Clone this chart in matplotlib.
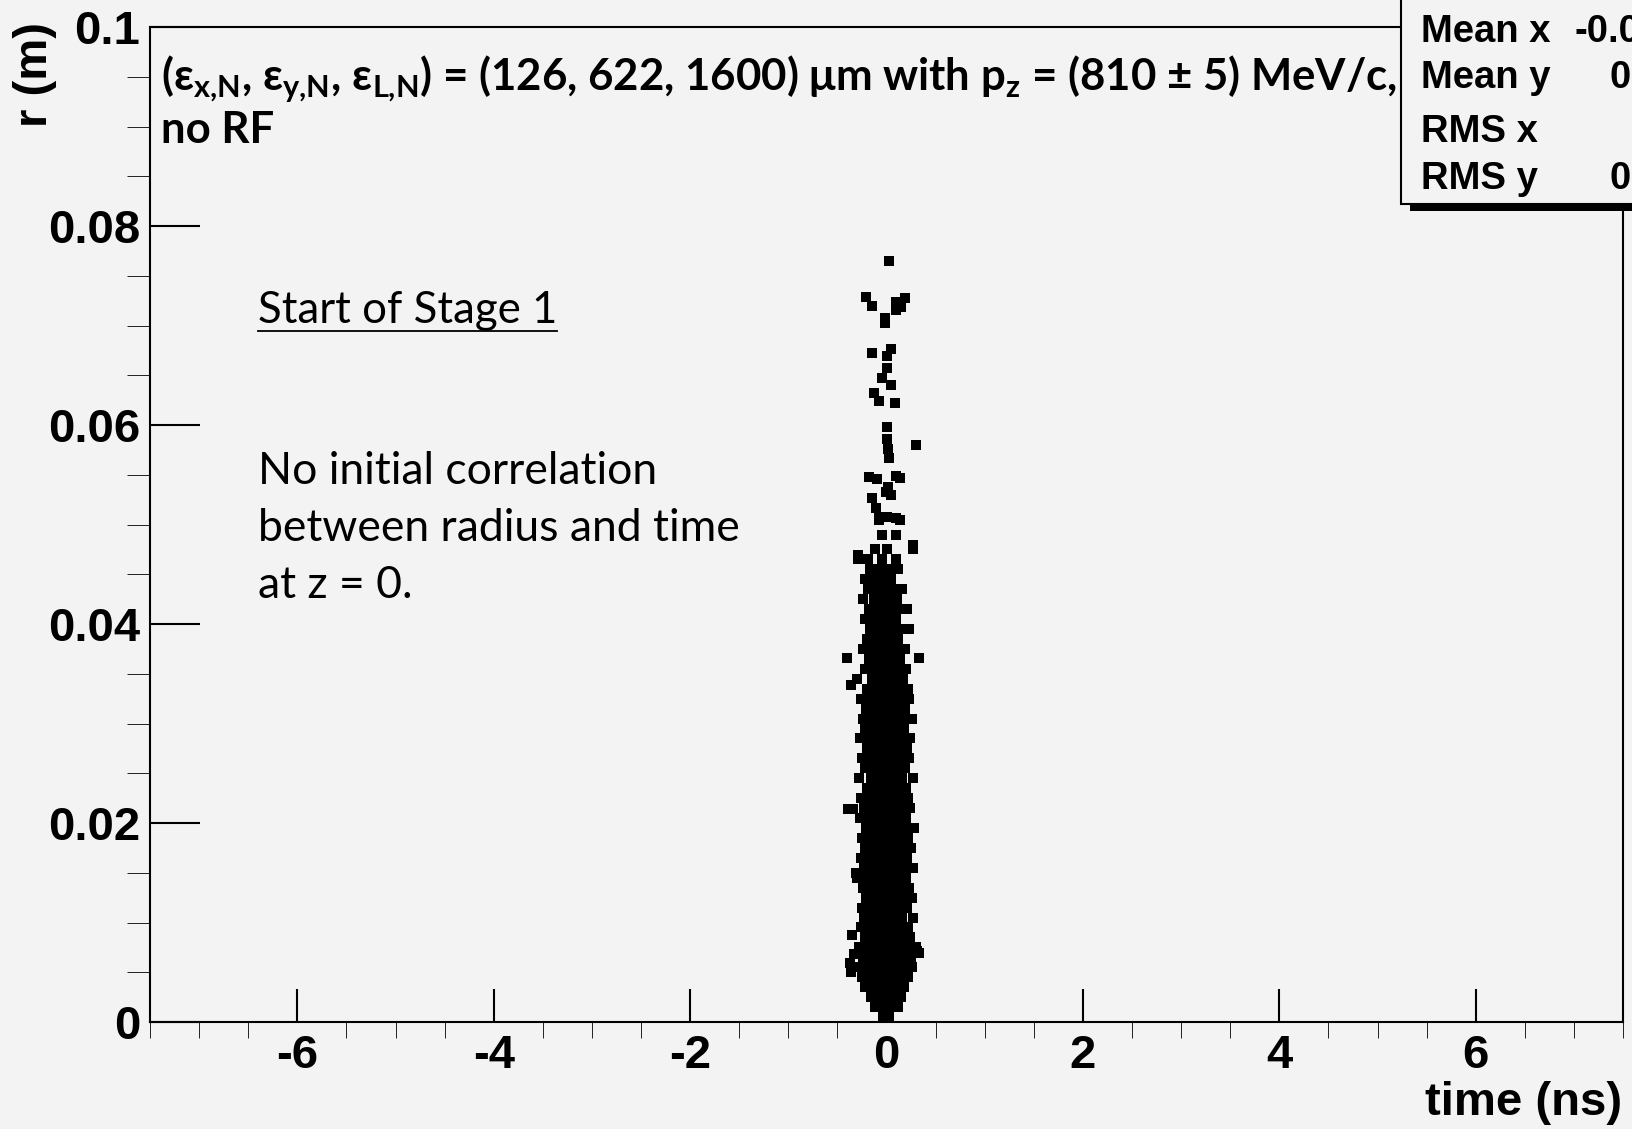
import numpy as np
import matplotlib.pyplot as plt
from matplotlib.patches import Rectangle
from matplotlib.lines import Line2D
from matplotlib.ticker import MultipleLocator, FixedLocator, FixedFormatter

plt.rcParams['axes.unicode_minus'] = False
plt.rcParams['mathtext.fontset'] = 'custom'
plt.rcParams['mathtext.rm'] = 'Lato:bold'

W, H = 1633, 1129
BG = '#f3f3f3'

# sparse particles above the dense core (time ns, radius m)
halo_t = [0.03, -0.21, -0.15, 0.10, 0.19, 0.15, 0.10, -0.02, -0.02, -0.15, 0.05, 0.0,
          0.0, -0.05, 0.05, -0.13, -0.08, 0.09, 0.0, 0.0, 0.30, 0.02, 0.03, -0.18,
          -0.10, 0.10, 0.14, 0.02, -0.01, 0.05, -0.15, -0.11, -0.08, 0.0, 0.10]
halo_r = [0.0765, 0.0729, 0.0720, 0.0724, 0.0728, 0.0719, 0.0716, 0.0708, 0.0703, 0.0672,
          0.0676, 0.0669, 0.0657, 0.0647, 0.0640, 0.0632, 0.0624, 0.0622, 0.0598, 0.0586,
          0.0580, 0.0576, 0.0567, 0.0548, 0.0546, 0.0549, 0.0547, 0.0538, 0.0533, 0.0530,
          0.0527, 0.0517, 0.0508, 0.0508, 0.0507]

# isolated points beside the core
side_t = [-0.36, -0.37, -0.33, 0.31, 0.33, -0.35, -0.39, -0.34, -0.36, -0.40, 0.33,
          0.27, -0.29, -0.31]
side_r = [0.0050, 0.0059, 0.0068, 0.0071, 0.0069, 0.0087, 0.0214, 0.0214, 0.0339,
          0.0366, 0.0366, 0.0479, 0.0469, 0.0150]

# dense core, one row of times per radius level
core_r = [0.0005, 0.0015, 0.0025, 0.0035, 0.0045, 0.0055, 0.0065, 0.0075, 0.0085, 0.0095,
          0.0105, 0.0115, 0.0125, 0.0135, 0.0145, 0.0155, 0.0165, 0.0175, 0.0185, 0.0195,
          0.0205, 0.0215, 0.0225, 0.0235, 0.0245, 0.0255, 0.0265, 0.0275, 0.0285, 0.0295,
          0.0305, 0.0315, 0.0325, 0.0335, 0.0345, 0.0355, 0.0365, 0.0375, 0.0385, 0.0395,
          0.0405, 0.0415, 0.0425, 0.0435, 0.0445, 0.0455, 0.0465, 0.0475, 0.0489, 0.0505]
core_t = [
    [-0.04, 0.03],
    [-0.12, -0.03, 0.05, 0.12],
    [-0.16, -0.08, 0.0, 0.07, 0.15],
    [-0.22, -0.13, -0.05, 0.03, 0.10, 0.18],
    [-0.25, -0.17, -0.09, -0.01, 0.07, 0.14, 0.22],
    [-0.27, -0.19, -0.11, -0.03, 0.05, 0.12, 0.19, 0.26],
    [-0.24, -0.15, -0.07, 0.01, 0.09, 0.17, 0.25],
    [-0.28, -0.20, -0.12, -0.04, 0.04, 0.11, 0.20, 0.30],
    [-0.22, -0.14, -0.06, 0.02, 0.10, 0.18, 0.24],
    [-0.26, -0.18, -0.09, -0.01, 0.07, 0.15, 0.22],
    [-0.23, -0.15, -0.07, 0.01, 0.09, 0.16, 0.27],
    [-0.25, -0.17, -0.10, -0.02, 0.06, 0.13, 0.21],
    [-0.21, -0.13, -0.05, 0.03, 0.11, 0.19, 0.26],
    [-0.24, -0.16, -0.08, 0.0, 0.08, 0.15, 0.23],
    [-0.30, -0.20, -0.12, -0.04, 0.04, 0.12, 0.20],
    [-0.23, -0.15, -0.07, 0.01, 0.09, 0.17, 0.27],
    [-0.26, -0.18, -0.10, -0.02, 0.06, 0.14, 0.21],
    [-0.22, -0.14, -0.06, 0.02, 0.10, 0.18, 0.25],
    [-0.25, -0.17, -0.09, -0.01, 0.07, 0.15, 0.22],
    [-0.21, -0.13, -0.05, 0.03, 0.11, 0.19, 0.28],
    [-0.27, -0.19, -0.11, -0.03, 0.05, 0.13, 0.20],
    [-0.23, -0.15, -0.07, 0.01, 0.09, 0.17, 0.24],
    [-0.26, -0.17, -0.09, -0.01, 0.07, 0.15, 0.22],
    [-0.20, -0.12, -0.04, 0.04, 0.12, 0.20],
    [-0.28, -0.16, -0.08, 0.0, 0.08, 0.16, 0.27],
    [-0.22, -0.14, -0.06, 0.02, 0.10, 0.19],
    [-0.25, -0.17, -0.09, -0.01, 0.07, 0.15, 0.23],
    [-0.20, -0.12, -0.04, 0.04, 0.12, 0.21],
    [-0.27, -0.18, -0.10, -0.02, 0.06, 0.14, 0.24],
    [-0.22, -0.14, -0.06, 0.02, 0.10, 0.18],
    [-0.24, -0.16, -0.08, 0.0, 0.08, 0.16, 0.26],
    [-0.21, -0.13, -0.05, 0.03, 0.11, 0.19],
    [-0.26, -0.17, -0.09, -0.01, 0.07, 0.15, 0.23],
    [-0.20, -0.12, -0.04, 0.04, 0.12, 0.22],
    [-0.30, -0.15, -0.07, 0.01, 0.09, 0.17],
    [-0.22, -0.13, -0.05, 0.03, 0.11, 0.20],
    [-0.18, -0.10, -0.02, 0.06, 0.14],
    [-0.24, -0.15, -0.07, 0.01, 0.09, 0.19],
    [-0.20, -0.12, -0.04, 0.04, 0.12],
    [-0.17, -0.09, -0.01, 0.07, 0.16, 0.23],
    [-0.22, -0.14, -0.06, 0.02, 0.10],
    [-0.18, -0.10, -0.02, 0.06, 0.14, 0.21],
    [-0.24, -0.13, -0.05, 0.03, 0.11],
    [-0.19, -0.10, 0.0, 0.08, 0.16],
    [-0.22, -0.14, -0.04, 0.05],
    [-0.17, -0.08, 0.02, 0.12],
    [-0.29, -0.19, -0.05, 0.10],
    [-0.12, 0.0, 0.27],
    [-0.05, 0.10],
    [-0.08, 0.14],
]

x_ticks = [-6, -4, -2, 0, 2, 4, 6]
x_labels = ['-6', '-4', '-2', '0', '2', '4', '6']
y_ticks = [0, 0.02, 0.04, 0.06, 0.08, 0.1]
y_labels = ['0', '0.02', '0.04', '0.06', '0.08', '0.1']

stat_names = ['Mean x', 'Mean y', 'RMS x', 'RMS y']
stat_values = ['-0.002046', '0.02058', '0.103', '0.01512']

t_all = list(halo_t) + list(side_t)
r_all = list(halo_r) + list(side_r)
for r, row in zip(core_r, core_t):
    t_all += row
    r_all += [r] * len(row)


def fx(px):
    return px / W


def fy(py):
    return 1 - py / H


fig = plt.figure(figsize=(W / 100, H / 100), dpi=100, facecolor=BG)
ax = fig.add_axes([fx(150), fy(1022), (1623 - 150) / W, (1022 - 27) / H])
ax.set_facecolor(BG)

ax.plot(t_all, r_all, 's', color='black', ms=7.0, mew=0)

ax.set_xlim(-7.5, 7.5)
ax.set_ylim(0, 0.1)

tick_font = dict(family='Liberation Sans', weight='bold', size=34)
ax.xaxis.set_major_locator(FixedLocator(x_ticks))
ax.xaxis.set_major_formatter(FixedFormatter(x_labels))
ax.xaxis.set_minor_locator(MultipleLocator(0.5))
ax.yaxis.set_major_locator(FixedLocator(y_ticks))
ax.yaxis.set_major_formatter(FixedFormatter(y_labels))
ax.yaxis.set_minor_locator(MultipleLocator(0.005))

ax.tick_params(direction='in', width=1.5, color='black', top=False, right=False)
ax.tick_params(axis='x', which='major', length=24, pad=9)
ax.tick_params(axis='x', which='minor', length=11.5)
ax.tick_params(axis='y', which='major', length=36, pad=7)
ax.tick_params(axis='y', which='minor', length=16.5)
for lab in ax.get_xticklabels() + ax.get_yticklabels():
    lab.set_fontproperties('Liberation Sans')
    lab.set_fontweight('bold')
    lab.set_fontsize(34)
for s in ax.spines.values():
    s.set_linewidth(1.5)

fig.text(fx(35), fy(22), 'r (m)', rotation=90, ha='center', va='top', **tick_font)
fig.text(fx(1622), fy(1103), 'time (ns)', ha='right', va='center', **tick_font)

# annotations
title = ('(ε$_{\\mathrm{x{,}N}}$, ε$_{\\mathrm{y{,}N}}$, ε$_{\\mathrm{L{,}N}}$) = (126, 622, 1600) '
         'μm with p$_{\\mathrm{z}}$ = (810 ± 5) MeV/c,')
fig.text(fx(161), fy(91), title, family='Lato', weight='bold', size=31.5, va='baseline', zorder=3)
fig.text(fx(161), fy(143), 'no RF', family='Lato', weight='bold', size=31.5, va='baseline', zorder=3)

stage = fig.text(fx(258), fy(323), 'Start of Stage 1', family='Lato', size=31.5, va='baseline')
note_lines = ['No initial correlation', 'between radius and time', 'at z = 0.']
for i, line in enumerate(note_lines):
    fig.text(fx(258), fy(484 + 57 * i), line, family='Lato', size=32, va='baseline')

fig.canvas.draw()
bb = stage.get_window_extent()
fig.add_artist(Line2D([bb.x0 / W, bb.x1 / W], [fy(331), fy(331)], color='black', lw=1.3))

# stats box (runs off the right edge, as in the original)
fig.add_artist(Rectangle((fx(1410), fy(211)), (1900 - 1410) / W, (211 + 30) / H,
                         transform=fig.transFigure, facecolor='black', edgecolor='none',
                         zorder=5, clip_on=False))
fig.add_artist(Rectangle((fx(1401), fy(204)), (1900 - 1401) / W, (204 + 30) / H,
                         transform=fig.transFigure, facecolor=BG, edgecolor='black',
                         lw=1.5, zorder=6, clip_on=False))
stat_font = dict(family='Liberation Sans', weight='bold', size=27.5)
stat_y = [32, 78, 132, 179]
stat_x = [1575, 1610, 1645, 1610]
for name, val, py, px in zip(stat_names, stat_values, stat_y, stat_x):
    fig.text(fx(1421), fy(py), name, ha='left', va='center', zorder=7, **stat_font)
    fig.text(fx(px), fy(py), val, ha='left', va='center', zorder=7, **stat_font)

fig.savefig('out.png', dpi=100, facecolor=BG)
